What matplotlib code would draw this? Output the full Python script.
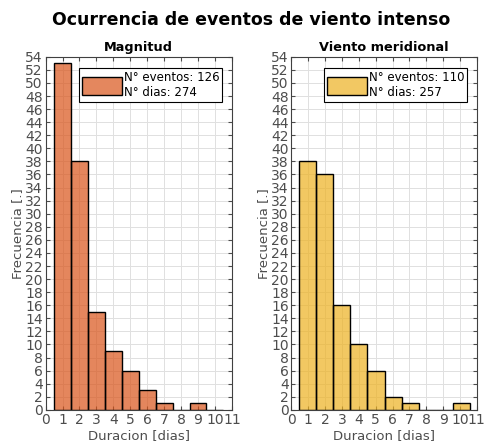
import numpy as np
import matplotlib.pyplot as plt
from matplotlib.patches import Patch

# ==========================================
# DATA
# ==========================================
duracion = [1, 2, 3, 4, 5, 6, 7, 8, 9, 10]
frec_magnitud = [53, 38, 15, 9, 6, 3, 1, 0, 1, 0]
frec_meridional = [38, 36, 16, 10, 6, 2, 1, 0, 0, 1]

eventos = [126, 110]
dias = [274, 257]
titulos = ["Magnitud", "Viento meridional"]

col_mag = (0.85, 0.325, 0.098)
col_mer = (0.929, 0.694, 0.125)

# ==========================================
# FIGURE
# ==========================================
fig = plt.figure(figsize=(4.85, 4.44), dpi=100)
fig.suptitle("Ocurrencia de eventos de viento intenso", fontsize=12.5,
             fontweight="bold", x=0.518, y=0.975)

pos = [[0.094, 0.077, 0.384, 0.795], [0.601, 0.077, 0.382, 0.795]]
series = [frec_magnitud, frec_meridional]
colores = [col_mag, col_mer]
anchos = [1.0, 1.015]

for i in range(2):
    ax = fig.add_axes(pos[i])
    ax.set_axisbelow(True)
    x = np.array(duracion)
    if i == 1:
        x = 0.45 + (x - 0.5) * anchos[i]
    ax.bar(x, series[i], width=anchos[i], color=colores[i], alpha=0.7,
           edgecolor="none")
    ax.bar(x, series[i], width=anchos[i], facecolor="none",
           edgecolor="black", linewidth=1.0)

    ax.set_xlim(0, 11)
    ax.set_ylim(0, 54)
    ax.set_xticks(range(0, 12))
    ax.set_yticks(range(0, 55, 2))
    ax.grid(True, color="#e0e0e0", linewidth=0.7)
    ax.tick_params(direction="in", top=True, right=True, labelsize=10,
                   colors="#4d4d4d", length=3, pad=2)
    for s in ax.spines.values():
        s.set_color("#404040")
        s.set_linewidth(0.8)

    ax.set_title(titulos[i], fontsize=9.3, fontweight="bold", pad=4)
    ax.set_xlabel("Duracion [dias]", fontsize=9.5, color="#4d4d4d", labelpad=2)
    ax.set_ylabel("Frecuencia [.]", fontsize=9.5, color="#4d4d4d", labelpad=1)

    h = Patch(facecolor=colores[i], alpha=0.7, edgecolor="black")
    lab = f"N° eventos: {eventos[i]}\nN° dias: {dias[i]}"
    leg = ax.legend([h], [lab], loc="upper right", bbox_to_anchor=(0.948, 0.969),
                    fontsize=8.5, handlelength=3.4, handleheight=2.0,
                    handletextpad=0.1, borderpad=0.25, borderaxespad=0.0,
                    fancybox=False, framealpha=1, edgecolor="black")
    leg.legend_handles[0].set_edgecolor("black")
    leg.legend_handles[0].set_alpha(1)
    leg.legend_handles[0].set_facecolor(tuple(0.7 * c + 0.3 for c in colores[i]))
    leg.get_frame().set_linewidth(0.8)

plt.savefig("out.png", dpi=100)
